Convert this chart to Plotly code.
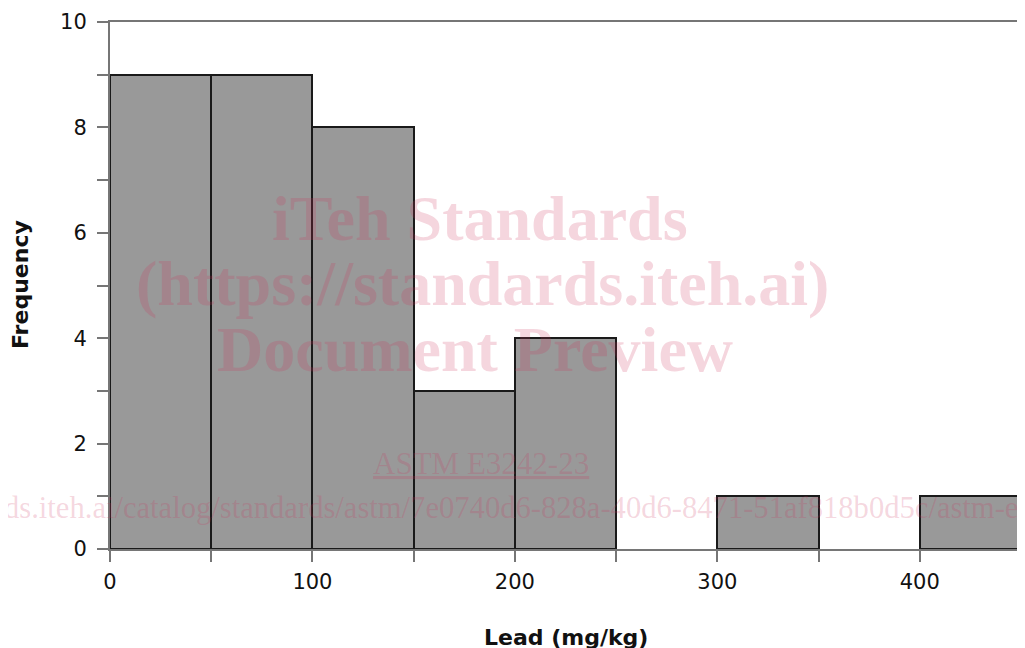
import plotly.graph_objects as go

# ---- data ----
bin_starts = [0, 50, 100, 150, 200, 250, 300, 350, 400]
counts = [9, 9, 8, 3, 4, 0, 1, 0, 1]
bin_width = 50
x_tick_vals = [0, 100, 200, 300, 400]
y_tick_vals = [0, 2, 4, 6, 8, 10]
x_title = "Lead (mg/kg)"
y_title = "Frequency"

wm_lines = ["iTeh Standards", "(https://standards.iteh.ai)", "Document Preview"]
wm_astm = "ASTM E3242-23"
wm_url = "ds.iteh.ai/catalog/standards/astm/7e0740d6-828a-40d6-8471-51af818b0d5c/astm-e3242-23"

# ---- layout constants (screen pixels; page body has an 8px margin) ----
OFF = 8
W, H = 1025, 648
plot_left, plot_right, plot_top, plot_bottom = 110, 1021, 22, 549
L = plot_left - OFF
T = plot_top - OFF
R = (W + OFF) - plot_right
B = (H + OFF) - plot_bottom
pw = plot_right - plot_left
ph = plot_bottom - plot_top


def px(x):
    return (x - plot_left) / pw


def py(y):
    return (plot_bottom - y) / ph


xs = [s for s, c in zip(bin_starts, counts) if c > 0]
ys = [c for c in counts if c > 0]

fig = go.Figure(
    go.Bar(
        x=xs,
        y=ys,
        width=bin_width,
        offset=0,
        marker=dict(color="#999999", line=dict(color="#1a1a1a", width=2)),
        hoverinfo="skip",
    )
)

axis_common = dict(
    showgrid=False,
    zeroline=False,
    showline=True,
    linecolor="#767676",
    linewidth=2,
    mirror=True,
    ticks="outside",
    ticklen=11,
    tickwidth=1.5,
    tickcolor="#767676",
    tickfont=dict(family="DejaVu Sans", size=21, color="#111111"),
    layer="below traces",
    automargin=False,
)

fig.update_xaxes(
    range=[0, 450],
    tickvals=x_tick_vals,
    minor=dict(dtick=50, tick0=0, ticks="outside", ticklen=11, tickwidth=1.5, tickcolor="#767676"),
    ticklabelstandoff=2,
    **axis_common,
)
fig.update_yaxes(
    range=[0, 10],
    tickvals=y_tick_vals,
    minor=dict(dtick=1, tick0=0, ticks="outside", ticklen=11, tickwidth=1.5, tickcolor="#767676"),
    ticklabelstandoff=6,
    **axis_common,
)

annotations = [
    dict(text=f"<b>{x_title}</b>", x=px(566), y=py(637), xref="paper", yref="paper",
         xanchor="center", yanchor="middle",
         showarrow=False, font=dict(family="DejaVu Sans", size=22, color="#111111")),
    dict(text=f"<b>{y_title}</b>", x=px(20), y=py(285), xref="paper", yref="paper",
         xanchor="center", yanchor="middle",
         showarrow=False, textangle=-90, font=dict(family="DejaVu Sans", size=22, color="#111111")),
]

wm_color = "rgba(205,50,90,0.2)"
wm_y = [218, 283, 350]
wm_x = [480, 482, 475]
for t, xx, yy in zip(wm_lines, wm_x, wm_y):
    annotations.append(dict(text=f"<b>{t}</b>", x=px(xx), y=py(yy), xref="paper", yref="paper",
                            xanchor="center", yanchor="middle", showarrow=False,
                            font=dict(family="Liberation Serif", size=64, color=wm_color)))
annotations.append(dict(text=f"<u>{wm_astm}</u>", x=px(481), y=py(463), xref="paper", yref="paper",
                        xanchor="center", yanchor="middle", showarrow=False,
                        font=dict(family="Liberation Serif", size=31, color=wm_color)))
annotations.append(dict(text=wm_url, x=px(2), y=py(508), xref="paper", yref="paper",
                        xanchor="left", yanchor="middle", showarrow=False,
                        font=dict(family="Liberation Serif", size=30.6, color=wm_color)))

fig.update_layout(
    width=W,
    height=H,
    margin=dict(l=L, r=R, t=T, b=B),
    paper_bgcolor="white",
    plot_bgcolor="white",
    showlegend=False,
    annotations=annotations,
    bargap=0,
)

fig.write_html("out.html")
